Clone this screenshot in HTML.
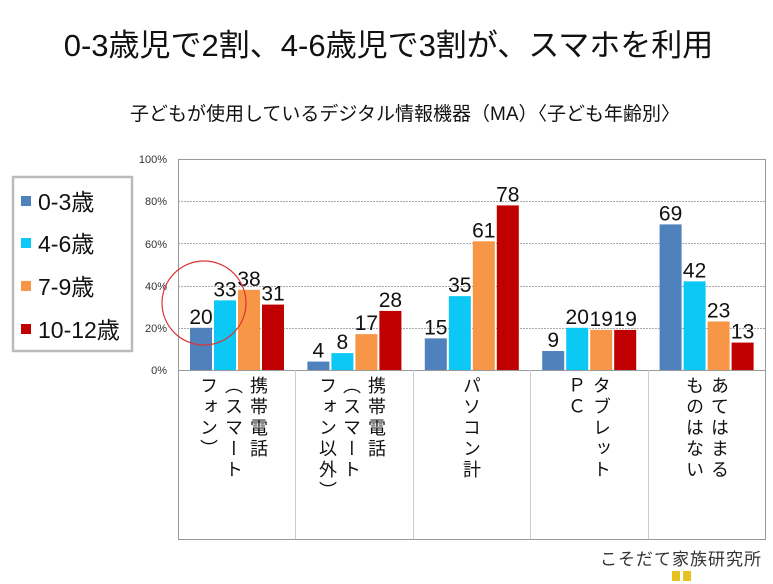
<!DOCTYPE html>
<html><head><meta charset="utf-8"><style>
body{margin:0;width:773px;height:584px;background:#fff;overflow:hidden;position:relative;font-family:"Liberation Sans","Noto Sans CJK JP",sans-serif;}
.a{position:absolute;}
.v{position:absolute;writing-mode:vertical-rl;font-size:18px;line-height:25px;letter-spacing:3px;color:#111;top:376px;}
</style></head><body>
<div class="a" style="left:0;width:777px;top:20px;text-align:center;font-size:31px;color:#111;">0-3歳児で2割、4-6歳児で3割が、スマホを利用</div>
<div class="a" style="left:0;width:810px;top:99px;text-align:center;font-size:19px;color:#111;">子どもが使用しているデジタル情報機器（MA）〈子ども年齢別〉</div>
<svg class="a" style="left:0;top:0" width="773" height="584">
<g stroke="#aaa" stroke-width="1" stroke-dasharray="2,1">
<line x1="178" x2="765" y1="201.5" y2="201.5"/><line x1="178" x2="765" y1="243.5" y2="243.5"/><line x1="178" x2="765" y1="286.5" y2="286.5"/><line x1="178" x2="765" y1="328.5" y2="328.5"/></g>
<g stroke="#999" fill="none">
<rect x="178.5" y="159.5" width="587" height="380"/>
<line x1="178" x2="765" y1="370.5" y2="370.5"/>
</g>
<g stroke="#ccc"><line x1="295.5" x2="295.5" y1="370" y2="539"/><line x1="413.5" x2="413.5" y1="370" y2="539"/><line x1="530.5" x2="530.5" y1="370" y2="539"/><line x1="648.5" x2="648.5" y1="370" y2="539"/></g>
<g font-size="11" fill="#333" text-anchor="end">
<text x="167" y="163">100%</text><text x="167" y="205">80%</text><text x="167" y="248">60%</text><text x="167" y="290">40%</text><text x="167" y="332">20%</text><text x="167" y="374">0%</text></g>
<g id="bars"></g>
<circle cx="204" cy="303" r="42" fill="none" stroke="#d33" stroke-width="1.2"/>
<rect x="13" y="177" width="119" height="174" fill="#fff" stroke="#bbb" stroke-width="2.5"/>
<rect x="21" y="196" width="10" height="10" fill="#4f81bd"/><rect x="21" y="238" width="10" height="10" fill="#0cc8f5"/><rect x="21" y="281" width="10" height="10" fill="#f79646"/><rect x="21" y="324" width="10" height="10" fill="#c00000"/>
<g font-size="23" fill="#111"><text x="38" y="210">0-3歳</text><text x="38" y="252">4-6歳</text><text x="38" y="295">7-9歳</text><text x="38" y="338">10-12歳</text></g>
<text x="600" y="565" font-size="17" fill="#333" letter-spacing="1">こそだて家族研究所</text>
<rect x="672" y="571" width="8" height="10" fill="#e8c020"/><rect x="683" y="571" width="8" height="10" fill="#e8c020"/>
</svg>
<div class="v" style="left:245px;">携帯電話</div>
<div class="v" style="left:220px;">（スマート</div>
<div class="v" style="left:195px;">フォン）</div>
<div class="v" style="left:363px;">携帯電話</div>
<div class="v" style="left:338px;">（スマート</div>
<div class="v" style="left:314px;">フォン以外）</div>
<div class="v" style="left:458px;">パソコン計</div>
<div class="v" style="left:588px;">タブレット</div>
<div class="v" style="left:563px;">ＰＣ</div>
<div class="v" style="left:706px;">あてはまる</div>
<div class="v" style="left:681px;">ものはない</div>
<script>
var d=[[20,33,38,31],[4,8,17,28],[15,35,61,78],[9,20,19,19],[69,42,23,13]];
var c=["#4f81bd","#0cc8f5","#f79646","#c00000"];
var s="";
for(var i=0;i<5;i++)for(var j=0;j<4;j++){var v=d[i][j];var x=178+117.4*i+12+24*j;var h=v*2.11;var y=370-h;
s+='<rect x="'+x+'" y="'+y+'" width="22" height="'+h+'" fill="'+c[j]+'"/>';
s+='<text x="'+(x+11)+'" y="'+(y-4)+'" font-size="21" text-anchor="middle" fill="#111">'+v+'</text>';}
document.getElementById("bars").innerHTML=s;
</script>
</body></html>
